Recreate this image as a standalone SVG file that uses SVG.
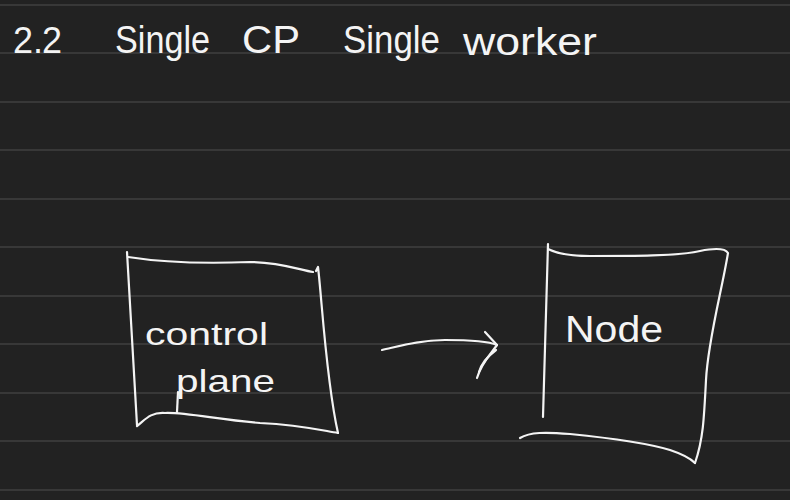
<svg xmlns="http://www.w3.org/2000/svg" width="790" height="500" viewBox="0 0 790 500">
<defs>
<style>
.bg{fill:#222222}
.rule{stroke:#4e4e4e;stroke-width:1}
.ink{fill:none;stroke:#f4f4f4;stroke-width:2.2;stroke-linecap:round;stroke-linejoin:round}
.t{fill:#f4f4f4;font-family:"Liberation Sans","DejaVu Sans",sans-serif}
</style>
</defs>
<rect class="bg" x="0" y="0" width="790" height="500"/>
<g id="rules">
<line class="rule" x1="0" y1="5" x2="790" y2="5"/>
<line class="rule" x1="0" y1="53" x2="790" y2="53"/>
<line class="rule" x1="0" y1="102" x2="790" y2="102"/>
<line class="rule" x1="0" y1="150" x2="790" y2="150"/>
<line class="rule" x1="0" y1="199" x2="790" y2="199"/>
<line class="rule" x1="0" y1="247" x2="790" y2="247"/>
<line class="rule" x1="0" y1="296" x2="790" y2="296"/>
<line class="rule" x1="0" y1="344" x2="790" y2="344"/>
<line class="rule" x1="0" y1="393" x2="790" y2="393"/>
<line class="rule" x1="0" y1="441" x2="790" y2="441"/>
<line class="rule" x1="0" y1="490" x2="790" y2="490"/>
</g>
<g id="title">
<text class="t" y="53" font-size="36"><tspan x="13">2</tspan><tspan x="33">.</tspan><tspan x="42">2</tspan></text>
<text class="t" x="115" y="53" font-size="38" textLength="95" lengthAdjust="spacingAndGlyphs">Single</text>
<text class="t" x="242" y="53" font-size="38" textLength="58" lengthAdjust="spacingAndGlyphs">CP</text>
<text class="t" x="343" y="53" font-size="38" textLength="97" lengthAdjust="spacingAndGlyphs">Single</text>
<text class="t" x="463" y="55" font-size="38" textLength="134" lengthAdjust="spacingAndGlyphs">worker</text>
</g>
<g id="control-plane">
<path class="ink" d="M127,252 L137,425"/>
<path class="ink" d="M128,257 C160,262 200,264 250,262 C280,262 300,270 313,272"/>
<path class="ink" d="M316,271 L318,267 C322,300 326,380 338,433"/>
<path class="ink" d="M137,426 C145,420 150,412 165,413 C185,412 220,420 260,423 C300,425 320,430 338,433"/>
<path class="ink" d="M177,412 L178,392"/>
<text class="t" x="145" y="345" font-size="32" textLength="123" lengthAdjust="spacingAndGlyphs">control</text>
<text class="t" x="176" y="392" font-size="32" textLength="99" lengthAdjust="spacingAndGlyphs">plane</text>
</g>
<g id="node">
<path class="ink" d="M548,244 L543,417"/>
<path class="ink" d="M548,249 C558,254 570,256 590,256 C630,256 680,256 700,251 C715,248 725,248 728,253 C722,290 708,340 706,380 C704,420 703,440 695,463"/>
<path class="ink" d="M520,438 C530,432 545,432 570,434 C610,438 650,444 670,450 C682,454 690,458 695,463"/>
<text class="t" x="565" y="342" font-size="36" textLength="98" lengthAdjust="spacingAndGlyphs">Node</text>
</g>
<g id="connectors">
<path class="ink" d="M382,350 C400,346 420,340 445,340 C470,340 488,341 497,345"/>
<path class="ink" d="M485,332 L497,345 C490,355 482,362 477,378"/>
<path class="ink" d="M496,350 C488,356 482,362 479,372"/>
</g>
</svg>
